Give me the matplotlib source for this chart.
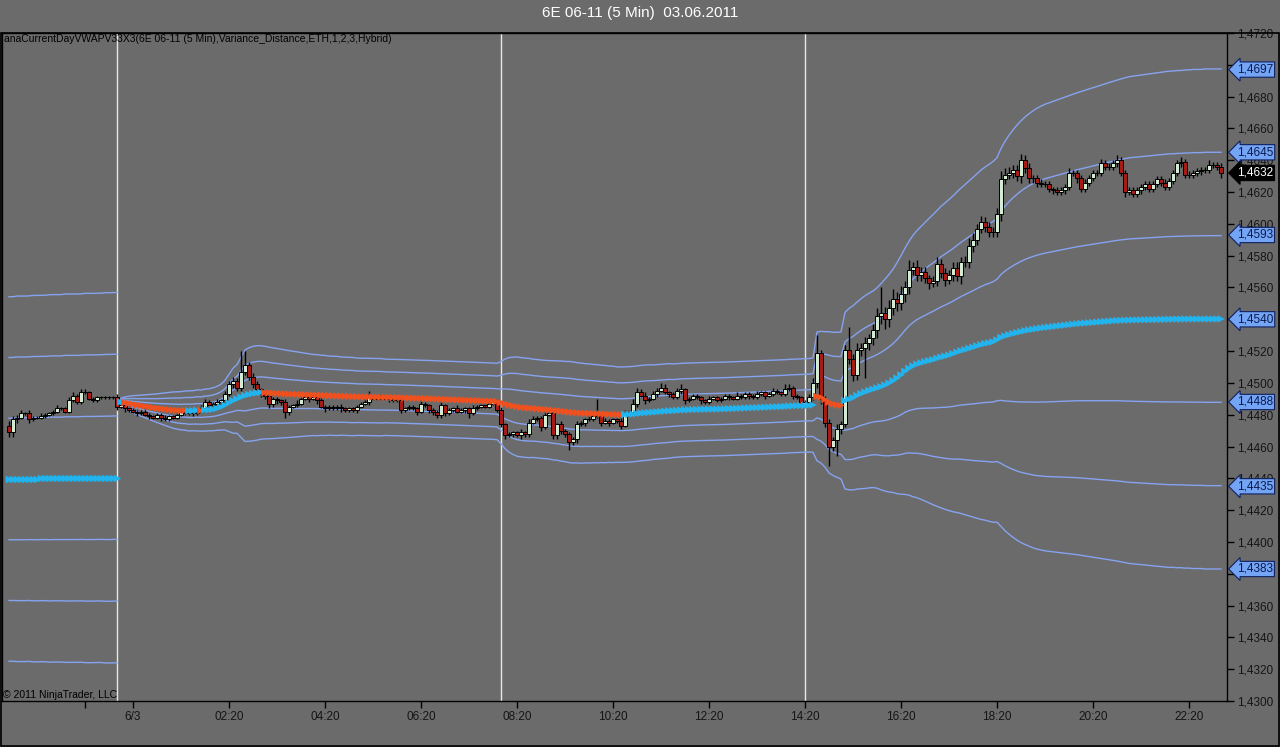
import numpy as np
import matplotlib.pyplot as plt
from matplotlib.patches import Rectangle

plt.rcParams['font.family'] = ['Liberation Sans', 'DejaVu Sans']

# All prices below are pips above 1.4000
BASE = 1.4

# Previous session, 28 bars of 5 min, the last one closes 23:00 on 6/2
prev_first_open = 473
prev_close = [469, 477, 478, 481, 481, 477, 478, 478, 479, 480,
              481, 482, 484, 484, 482, 489, 492, 488, 494, 494,
              490, 489, 491, 491, 491, 491, 491, 485]
prev_wu = [3, 2, 2, 2, 1, 2, 1, 1, 2, 1, 1, 1, 2, 1, 1, 2, 2, 1, 2, 2, 1, 1, 1, 1, 1, 1, 1, 2]
prev_wd = [3, 3, 2, 1, 1, 2, 1, 1, 1, 1, 1, 1, 1, 1, 1, 1, 1, 1, 1, 1, 1, 1, 1, 1, 1, 1, 1, 2]
prev_vwap = [439.6, 439.6, 439.7, 439.7, 439.7, 439.8, 439.8, 439.8, 439.9, 439.9,
             439.9, 440.0, 440.0, 440.0, 440.1, 440.1, 440.1, 440.1, 440.2, 440.2,
             440.2, 440.2, 440.3, 440.3, 440.3, 440.3, 440.4, 440.4]
prev_sd = [38.2, 38.2, 38.3, 38.3, 38.3, 38.3, 38.4, 38.4, 38.4, 38.4,
           38.5, 38.5, 38.5, 38.5, 38.6, 38.6, 38.6, 38.6, 38.6, 38.7,
           38.7, 38.7, 38.7, 38.7, 38.8, 38.8, 38.8, 38.8]

# Session of 6/3, bars 00:05 .. 23:00
sess_close = [
    486, 484, 483, 482, 481, 482, 480, 479, 478, 480,
    478, 477, 479, 478, 480, 482, 481, 482, 481, 482,
    484, 488, 486, 487, 488, 489, 493, 499, 501, 497,
    507, 511, 504, 499, 496, 493, 492, 487, 490, 489,
    488, 482, 485, 486, 487, 490, 491, 490, 491, 489,
    485, 484, 485, 484, 485, 484, 483, 484, 483, 485,
    487, 488, 491, 490, 490, 491, 490, 490, 489, 489,
    483, 484, 485, 484, 482, 487, 486, 483, 482, 480,
    486, 481, 483, 484, 482, 483, 484, 481, 484, 485,
    486, 485, 487, 488, 483, 474, 467, 468, 469, 467,
    469, 468, 475, 477, 478, 472, 480, 481, 467, 474,
    470, 468, 463, 465, 474, 475, 477, 477, 479, 480,
    475, 476, 475, 477, 476, 473, 481, 482, 487, 494,
    492, 489, 490, 493, 495, 497, 494, 493, 491, 495,
    496, 489, 490, 492, 491, 489, 488, 490, 491, 489,
    490, 492, 491, 490, 492, 491, 493, 492, 491, 493,
    494, 492, 493, 495, 494, 493, 496, 497, 492, 491,
    487, 488, 491, 500, 519, 490, 475, 460, 464, 471,
    474, 521, 515, 505, 521, 522, 525, 528, 533, 542,
    544, 540, 547, 553, 550, 556, 560, 571, 573, 568,
    570, 566, 563, 564, 575, 569, 565, 568, 572, 567,
    576, 576, 586, 590, 597, 601, 598, 595, 595, 606,
    628, 631, 632, 634, 630, 640, 635, 629, 629, 626,
    625, 625, 622, 621, 620, 621, 623, 632, 632, 629,
    622, 626, 629, 632, 632, 638, 636, 636, 638, 640,
    632, 620, 621, 619, 621, 623, 625, 622, 625, 628,
    626, 623, 627, 632, 638, 639, 631, 631, 632, 633,
    634, 634, 637, 637, 636, 632]
sess_wu = [
    1, 1, 2, 1, 1, 1, 2, 1, 1, 1,
    1, 2, 1, 1, 1, 1, 2, 1, 1, 1,
    2, 2, 1, 1, 2, 1, 2, 2, 3, 2,
    13, 9, 2, 2, 2, 1, 2, 2, 1, 1,
    1, 2, 1, 1, 2, 1, 2, 1, 1, 1,
    2, 1, 1, 1, 1, 2, 1, 1, 1, 1,
    1, 2, 4, 1, 1, 2, 1, 1, 1, 1,
    2, 1, 1, 1, 1, 2, 1, 1, 1, 1,
    2, 1, 1, 1, 2, 1, 1, 1, 2, 1,
    1, 1, 2, 1, 2, 2, 1, 1, 1, 1,
    2, 1, 2, 2, 1, 1, 2, 1, 2, 1,
    2, 1, 1, 1, 2, 1, 1, 2, 1, 10,
    1, 2, 1, 1, 1, 2, 2, 1, 3, 3,
    2, 2, 1, 2, 2, 3, 2, 1, 1, 2,
    3, 1, 1, 1, 1, 1, 1, 2, 1, 1,
    1, 1, 1, 1, 2, 1, 1, 1, 1, 2,
    1, 1, 1, 2, 1, 1, 3, 2, 1, 1,
    1, 1, 2, 3, 11, 2, 2, 2, 2, 3,
    2, 3, 14, 3, 4, 3, 4, 3, 4, 5,
    16, 4, 5, 6, 4, 5, 4, 6, 3, 4,
    3, 3, 2, 3, 4, 3, 3, 3, 4, 4,
    3, 4, 5, 4, 3, 4, 3, 3, 3, 4,
    5, 4, 4, 3, 3, 4, 3, 3, 2, 2,
    2, 2, 2, 1, 2, 2, 2, 3, 2, 2,
    2, 2, 2, 2, 2, 3, 2, 2, 2, 3,
    2, 2, 2, 2, 2, 2, 2, 2, 2, 2,
    2, 2, 2, 2, 2, 3, 2, 2, 2, 2,
    2, 2, 3, 2, 2, 2]
sess_wd = [
    1, 2, 1, 1, 2, 1, 1, 2, 1, 1,
    2, 1, 1, 1, 1, 1, 1, 1, 2, 1,
    1, 2, 1, 1, 1, 2, 2, 1, 2, 2,
    2, 2, 2, 2, 2, 2, 2, 3, 2, 2,
    2, 4, 2, 1, 1, 1, 1, 2, 1, 2,
    1, 2, 1, 1, 1, 2, 1, 1, 1, 2,
    1, 1, 2, 1, 1, 1, 1, 2, 1, 1,
    2, 1, 1, 1, 2, 1, 1, 2, 2, 2,
    2, 2, 1, 1, 1, 1, 2, 3, 1, 1,
    1, 1, 1, 1, 1, 2, 2, 1, 2, 1,
    2, 2, 2, 1, 1, 2, 1, 1, 2, 2,
    2, 2, 5, 2, 3, 1, 2, 1, 1, 1,
    2, 1, 2, 1, 1, 2, 1, 2, 2, 2,
    1, 2, 1, 1, 2, 1, 1, 2, 1, 1,
    2, 2, 1, 1, 1, 2, 1, 1, 1, 1,
    1, 1, 2, 1, 1, 1, 1, 2, 1, 1,
    1, 2, 1, 1, 1, 1, 1, 1, 2, 1,
    2, 2, 1, 2, 3, 3, 3, 12, 3, 10,
    3, 2, 3, 4, 3, 4, 19, 4, 4, 5,
    5, 6, 5, 4, 5, 4, 5, 4, 3, 4,
    4, 3, 4, 3, 3, 3, 4, 3, 4, 3,
    5, 3, 4, 4, 3, 3, 3, 3, 3, 3,
    4, 3, 3, 3, 3, 4, 3, 3, 3, 3,
    2, 2, 2, 2, 2, 2, 2, 2, 2, 3,
    2, 2, 2, 2, 2, 2, 2, 2, 2, 2,
    2, 3, 2, 2, 2, 2, 2, 2, 2, 2,
    2, 2, 2, 2, 2, 2, 2, 2, 2, 2,
    2, 2, 2, 2, 2, 3]
sess_vwap = [
    488.0, 487.6, 487.1, 486.6, 486.1, 485.7, 485.3, 484.9, 484.5, 484.1,
    483.8, 483.5, 483.2, 482.9, 482.7, 482.5, 482.6, 482.4, 482.5, 482.7,
    482.6, 482.9, 483.1, 483.4, 484.0, 484.8, 486.0, 487.4, 488.8, 489.9,
    491.0, 492.0, 492.7, 493.3, 493.7, 494.0, 493.9, 493.7, 493.5, 493.4,
    493.3, 493.1, 493.0, 492.9, 492.8, 492.7, 492.6, 492.5, 492.4, 492.3,
    492.2, 492.1, 492.0, 491.9, 491.8, 491.7, 491.6, 491.5, 491.4, 491.3,
    491.25, 491.2, 491.15, 491.1, 491.05, 491.0, 490.95, 490.9, 490.85, 490.8,
    490.7, 490.6, 490.5, 490.4, 490.3, 490.25, 490.2, 490.1, 490.0, 489.9,
    489.8, 489.7, 489.6, 489.5, 489.4, 489.3, 489.2, 489.1, 489.0, 488.9,
    488.8, 488.7, 488.6, 488.5, 488.3, 487.6, 486.8, 486.2, 485.6, 485.1,
    484.7, 484.4, 484.2, 484.0, 483.8, 483.5, 483.3, 483.1, 482.8, 482.6,
    482.3, 482.0, 481.7, 481.4, 481.2, 481.0, 480.9, 480.8, 480.7, 480.6,
    480.5, 480.4, 480.3, 480.2, 480.1, 480.0, 480.1, 480.2, 480.4, 480.7,
    481.0, 481.2, 481.4, 481.6, 481.8, 482.0, 482.2, 482.4, 482.5, 482.7,
    482.9, 483.0, 483.1, 483.2, 483.3, 483.35, 483.4, 483.45, 483.5, 483.55,
    483.6, 483.7, 483.8, 483.9, 484.0, 484.1, 484.2, 484.3, 484.4, 484.5,
    484.6, 484.7, 484.8, 484.9, 485.0, 485.1, 485.2, 485.4, 485.5, 485.6,
    485.7, 485.8, 485.9, 486.1, 491.5, 491.0, 489.6, 487.8, 486.8, 486.2,
    485.8, 488.8, 489.8, 490.6, 492.0, 493.2, 494.2, 495.2, 496.0, 496.8,
    497.6, 498.6, 499.8, 501.3, 503.0, 505.0, 507.3, 509.2, 510.6, 511.8,
    512.6, 513.3, 514.0, 514.6, 515.4, 516.2, 516.8, 517.5, 518.3, 519.3,
    520.2, 520.9, 521.7, 522.4, 523.2, 524.0, 524.7, 525.2, 525.8, 527.0,
    528.6, 529.5, 530.3, 531.0, 531.6, 532.2, 532.8, 533.3, 533.7, 534.1,
    534.5, 534.8, 535.1, 535.4, 535.7, 536.0, 536.3, 536.6, 536.9, 537.2,
    537.4, 537.6, 537.8, 538.0, 538.2, 538.4, 538.6, 538.8, 539.0, 539.2,
    539.3, 539.4, 539.5, 539.55, 539.6, 539.65, 539.7, 539.75, 539.8, 539.85,
    539.9, 539.95, 540.0, 540.05, 540.1, 540.12, 540.14, 540.16, 540.18, 540.2,
    540.2, 540.2, 540.2, 540.2, 540.2, 540.2]
sess_sd = [
    0.8, 1.2, 1.5, 1.8, 2.0, 2.2, 2.4, 2.6, 2.8, 3.0,
    3.2, 3.4, 3.6, 3.8, 3.9, 4.0, 4.1, 4.2, 4.2, 4.3,
    4.3, 4.4, 4.4, 4.5, 4.6, 4.8, 5.2, 6.0, 6.8, 7.2,
    8.4, 9.6, 9.8, 9.9, 9.9, 9.8, 9.7, 9.6, 9.5, 9.4,
    9.3, 9.2, 9.1, 9.0, 8.9, 8.8, 8.7, 8.6, 8.5, 8.5,
    8.4, 8.4, 8.3, 8.3, 8.3, 8.2, 8.2, 8.2, 8.2, 8.1,
    8.1, 8.1, 8.1, 8.1, 8.1, 8.1, 8.0, 8.0, 8.0, 8.0,
    8.0, 8.0, 8.0, 8.0, 8.0, 8.0, 8.0, 8.0, 8.0, 8.0,
    8.0, 8.0, 8.0, 8.0, 8.0, 8.0, 8.0, 8.0, 8.0, 8.0,
    8.0, 8.0, 8.0, 8.0, 8.0, 8.6, 9.4, 9.9, 10.2, 10.4,
    10.4, 10.4, 10.4, 10.3, 10.3, 10.3, 10.3, 10.3, 10.4, 10.4,
    10.5, 10.5, 10.6, 10.6, 10.5, 10.5, 10.4, 10.4, 10.3, 10.3,
    10.2, 10.2, 10.1, 10.1, 10.0, 10.0, 10.0, 10.0, 10.0, 10.0,
    10.0, 10.0, 10.0, 9.9, 9.9, 9.9, 9.9, 9.9, 9.8, 9.8,
    9.8, 9.8, 9.8, 9.8, 9.8, 9.8, 9.8, 9.8, 9.8, 9.8,
    9.8, 9.8, 9.8, 9.8, 9.8, 9.8, 9.8, 9.8, 9.8, 9.8,
    9.8, 9.8, 9.8, 9.8, 9.8, 9.8, 9.8, 9.8, 9.8, 9.8,
    9.8, 9.8, 9.8, 9.9, 13.5, 13.8, 14.2, 14.8, 15.0, 15.2,
    15.4, 18.5, 19.0, 19.3, 19.6, 19.9, 20.2, 20.4, 20.6, 21.0,
    21.6, 22.2, 22.8, 23.4, 24.2, 25.0, 25.8, 26.6, 27.4, 28.0,
    28.6, 29.2, 29.8, 30.4, 31.0, 31.6, 32.1, 32.6, 33.1, 33.6,
    34.1, 34.6, 35.1, 35.6, 36.1, 36.6, 37.0, 37.4, 37.8, 38.2,
    39.6, 40.8, 41.8, 42.7, 43.5, 44.2, 44.8, 45.3, 45.8, 46.2,
    46.5, 46.8, 47.0, 47.2, 47.4, 47.6, 47.8, 48.0, 48.2, 48.4,
    48.6, 48.8, 49.0, 49.2, 49.4, 49.6, 49.8, 50.0, 50.2, 50.4,
    50.6, 50.8, 51.0, 51.1, 51.2, 51.3, 51.4, 51.5, 51.6, 51.7,
    51.8, 51.9, 52.0, 52.0, 52.1, 52.1, 52.2, 52.2, 52.3, 52.3,
    52.3, 52.4, 52.4, 52.4, 52.4, 52.4]
# VWAP trend state of the session ("up" = blue, "dn" = orange), as runs of bars
trend_runs = [("up", 1), ("dn", 16), ("up", 3), ("dn", 1), ("up", 15),
              ("dn", 90), ("up", 48), ("dn", 7), ("up", 95)]

# axis text
tick_times = ["22:20", "00:20", "02:20", "04:20", "06:20", "08:20", "10:20",
              "12:20", "14:20", "16:20", "18:20", "20:20", "22:20"]
tick_labels = ["", "6/3", "02:20", "04:20", "06:20", "08:20", "10:20",
               "12:20", "14:20", "16:20", "18:20", "20:20", "22:20"]
marker_times = ["00:00", "08:00", "14:20"]
title = "6E 06-11 (5 Min)  03.06.2011"
indicator = "anaCurrentDayVWAPV33X3(6E 06-11 (5 Min),Variance_Distance,ETH,1,2,3,Hybrid)"

BG = "#6b6b6b"
BAND = "#86a3f0"
UP_MK = "#22b4ee"
DN_MK = "#f0501e"


def to_price(v):
    return BASE + np.asarray(v, dtype=float) / 10000.0


def bar_pos(t, prev_day=False):
    # one unit per 5-min bar; 0 = last bar of the previous day (23:00),
    # the 23:00-00:00 break takes no room
    h, m = map(int, t.split(":"))
    mins = h * 60 + m
    if prev_day:
        mins -= 23 * 60
    return mins / 5.0


# candles
closes = prev_close + sess_close
opens = [prev_first_open] + closes[:-1]
o = np.array(opens, float)
c = np.array(closes, float)
hi = np.maximum(o, c) + np.array(prev_wu + sess_wu)
lo = np.minimum(o, c) - np.array(prev_wd + sess_wd)
u_prev = np.arange(-len(prev_close) + 1, 1)
u_sess = np.arange(1, len(sess_close) + 1)
u_all = np.concatenate([u_prev, u_sess])

fig = plt.figure(figsize=(12.8, 7.47), dpi=100, facecolor=BG)
ax = fig.add_axes([2 / 1280, 1 - 701 / 747, 1225 / 1280, 668 / 747])
ax.set_facecolor(BG)

# session marker lines
for t in marker_times:
    ax.axvline(bar_pos(t), color="#e8e8e8", lw=1, zorder=1)

# variance bands
for u_day, vw, sd in [(u_prev, prev_vwap, prev_sd), (u_sess, sess_vwap, sess_sd)]:
    vw = np.array(vw)
    sd = np.array(sd)
    for k in (1, 2, 3):
        ax.plot(u_day, to_price(vw + k * sd), color=BAND, lw=1, zorder=2)
        ax.plot(u_day, to_price(vw - k * sd), color=BAND, lw=1, zorder=2)

# candles
body_col = np.where(c >= o, "#d4ecd4", "#a81a14")
ax.vlines(u_all, to_price(lo), to_price(hi), color="black", lw=1, zorder=3)
ax.bar(u_all, to_price(c) - to_price(o), bottom=to_price(o), width=0.8,
       color=body_col, edgecolor="black", linewidth=0.7, zorder=4)

# VWAP markers
sess_cols = []
for state, n in trend_runs:
    sess_cols += [UP_MK if state == "up" else DN_MK] * n
ax.scatter(u_prev, to_price(prev_vwap), marker=">", s=30, c=UP_MK, linewidths=0, zorder=5)
ax.scatter(u_sess, to_price(sess_vwap), marker=">", s=30, c=sess_cols, linewidths=0, zorder=5)

# price flags on the right axis (last band values, VWAP and last price)
vw_last = sess_vwap[-1]
sd_last = sess_sd[-1]
flags = [round(float(to_price(vw_last + k * sd_last)), 4) for k in (3, 2, 1, 0, -1, -2, -3)]
last = round(float(to_price(sess_close[-1])), 4)

# axes
ax.set_xlim(-28.75, 277.5)
ax.set_ylim(1.4300, 1.4720)
ax.yaxis.tick_right()
yt = np.arange(1.4300, 1.47201, 0.002)
ax.set_yticks(yt)
# labels sitting right under a flag are hidden by it in the original
ax.set_yticklabels(["" if min(abs(v - f) for f in flags) < 0.0004 else f"{v:.4f}".replace(".", ",")
                    for v in yt])
xt = [bar_pos(t, prev_day=(i == 0)) for i, t in enumerate(tick_times)]
ax.set_xticks(xt)
ax.set_xticklabels(tick_labels)
ax.tick_params(axis="both", direction="out", length=5, width=1, color="black",
               labelsize=8.5, labelcolor="#151515", pad=2)
for sp in ax.spines.values():
    sp.set_color("black")
    sp.set_linewidth(1)

for p in flags:
    ax.annotate(f"{p:.4f}".replace(".", ","), xy=(1, p), xycoords=("axes fraction", "data"),
                xytext=(7, 0), textcoords="offset points", ha="left", va="center",
                fontsize=8.5, color="#0a1a50", annotation_clip=False, zorder=10,
                bbox=dict(boxstyle="larrow,pad=0.14", fc="#74a4f4", ec="#102060", lw=0.8))
ax.annotate(f"{last:.4f}".replace(".", ","), xy=(1, last), xycoords=("axes fraction", "data"),
            xytext=(7, 0), textcoords="offset points", ha="left", va="center",
            fontsize=8.5, color="white", annotation_clip=False, zorder=11,
            bbox=dict(boxstyle="larrow,pad=0.14", fc="black", ec="black", lw=0.8))

# texts
fig.text(0.5, 1 - 13 / 747, title, ha="center", va="center", color="white", fontsize=11)
fig.text(4 / 1280, 1 - 39 / 747, indicator, ha="left", va="center", color="black", fontsize=7.5)
fig.text(3 / 1280, 1 - 695 / 747, "\u00a9 2011 NinjaTrader, LLC", ha="left", va="center",
         color="black", fontsize=7.5)

# panel frame
fig.patches.append(Rectangle((0.5 / 1280, 1 - 745.5 / 747), 1278 / 1280, 712.5 / 747,
                             transform=fig.transFigure, fill=False, ec="black", lw=1.2))

fig.savefig("out.png", dpi=100, facecolor=BG)
